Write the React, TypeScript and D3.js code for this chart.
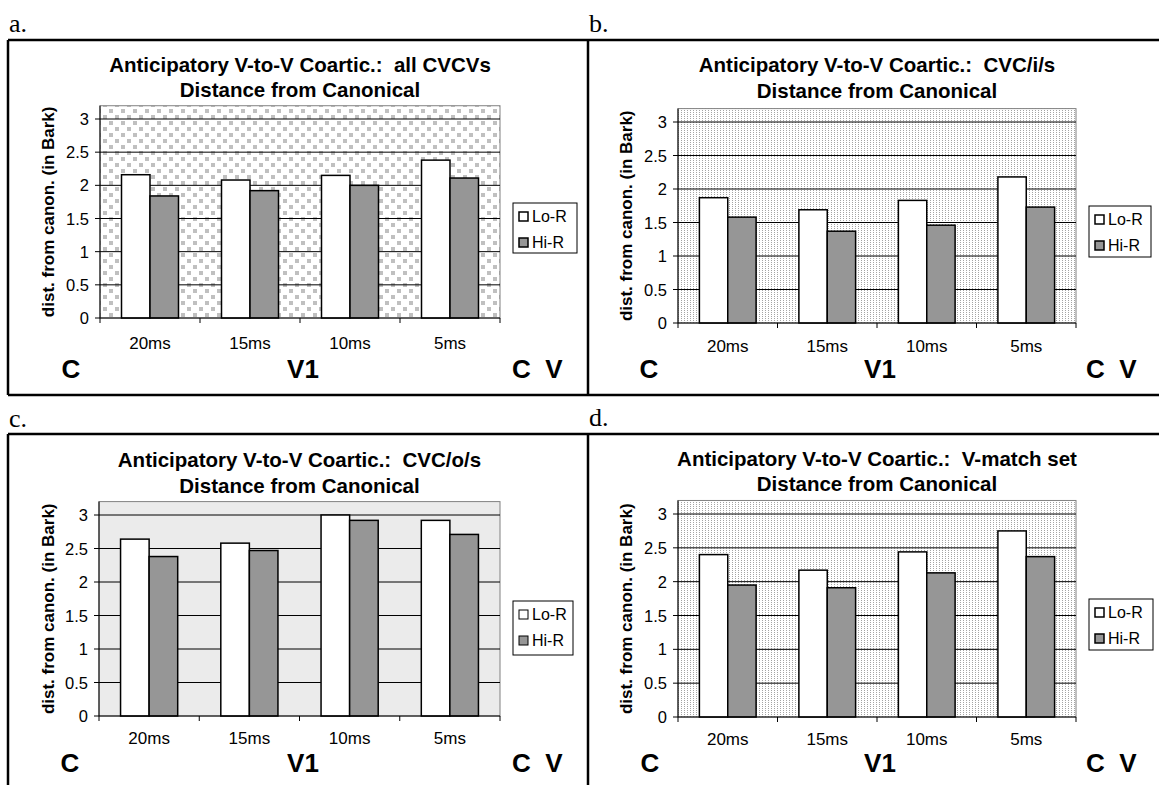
import React from "react";
import * as d3 from "d3";

const categories = ["20ms", "15ms", "10ms", "5ms"];
const seriesNames = ["Lo-R", "Hi-R"];
const yTicks = [0, 0.5, 1, 1.5, 2, 2.5, 3];

const loA = [2.16, 2.08, 2.15, 2.38];
const hiA = [1.84, 1.92, 2.0, 2.11];
const loB = [1.87, 1.69, 1.83, 2.18];
const hiB = [1.58, 1.37, 1.46, 1.73];
const loC = [2.64, 2.58, 3.0, 2.92];
const hiC = [2.38, 2.47, 2.92, 2.71];
const loD = [2.4, 2.17, 2.44, 2.75];
const hiD = [1.95, 1.91, 2.13, 2.37];

const titleLines = [
  "Anticipatory V-to-V Coartic.:  all CVCVs",
  "Anticipatory V-to-V Coartic.:  CVC/i/s",
  "Anticipatory V-to-V Coartic.:  CVC/o/s",
  "Anticipatory V-to-V Coartic.:  V-match set",
];
const subtitle = "Distance from Canonical";
const yTitle = "dist. from canon. (in Bark)";
const panelLetters = ["a.", "b.", "c.", "d."];

const SANS = "'Liberation Sans', Arial, sans-serif";
const SERIF = "'Liberation Serif', 'Times New Roman', serif";

type Layout = {
  left: number;
  right: number;
  zero: number;
  three: number;
  t1: number;
  t2: number;
  catY: number;
  cvY: number;
  yTitleX: number;
  lx: number;
  ly: number;
  lw: number;
  lh: number;
  cX: number;
  v1X: number;
  cvX: number;
  letterX: number;
  letterY: number;
  bg: string;
};

const layouts: Layout[] = [
  { left: 100, right: 500, zero: 318, three: 119, t1: 72, t2: 97, catY: 349, cvY: 378, yTitleX: 48, lx: 513, ly: 203, lw: 64, lh: 50, cX: 71, v1X: 303, cvX: 512, letterX: 9, letterY: 32, bg: "url(#dotsA)" },
  { left: 678, right: 1076, zero: 323, three: 122, t1: 72, t2: 98, catY: 352, cvY: 378, yTitleX: 626, lx: 1089, ly: 206, lw: 62, lh: 51, cX: 649, v1X: 880, cvX: 1086, letterX: 589, letterY: 32, bg: "url(#fineDots)" },
  { left: 99, right: 500, zero: 716, three: 515, t1: 467, t2: 493, catY: 744, cvY: 772, yTitleX: 48, lx: 513, ly: 601, lw: 60, lh: 54, cX: 70, v1X: 303, cvX: 512, letterX: 9, letterY: 427, bg: "#ebebeb" },
  { left: 678, right: 1076, zero: 717, three: 514, t1: 466, t2: 491, catY: 745, cvY: 772, yTitleX: 626, lx: 1089, ly: 599, lw: 64, lh: 51, cX: 650, v1X: 880, cvX: 1086, letterX: 589, letterY: 426, bg: "url(#fineDots)" },
];

const panelData = [
  [loA, hiA],
  [loB, hiB],
  [loC, hiC],
  [loD, hiD],
];

const seriesFill = ["#ffffff", "#969696"];

function Panel({ idx }: { idx: number }) {
  const L = layouts[idx];
  const data = panelData[idx];
  const x = d3.scaleBand<string>().domain(categories).range([L.left, L.right]).padding(0);
  const y = d3.scaleLinear().domain([0, 3]).range([L.zero, L.three]);
  const bw = x.bandwidth();
  const inner = d3.scaleBand<string>().domain(seriesNames).range([bw * 0.215, bw * 0.785]).padding(0);
  const top = y(3.2);
  const cx = (L.left + L.right) / 2;
  const ymid = (top + L.zero) / 2;
  const boundaries = d3.range(categories.length + 1).map((i) => L.left + i * bw);
  return (
    <g>
      <text x={L.letterX} y={L.letterY} fontFamily={SERIF} fontSize={26}>{panelLetters[idx]}</text>
      <text x={cx} y={L.t1} textAnchor="middle" fontFamily={SANS} fontWeight="bold" fontSize={20.5} style={{ whiteSpace: "pre" }}>{titleLines[idx]}</text>
      <text x={cx} y={L.t2} textAnchor="middle" fontFamily={SANS} fontWeight="bold" fontSize={20.5}>{subtitle}</text>
      <rect x={L.left} y={top} width={L.right - L.left} height={L.zero - top} fill={L.bg} stroke="#808080" strokeWidth={1} />
      {yTicks.filter((t) => t > 0).map((t) => (
        <line key={t} x1={L.left} x2={L.right} y1={y(t)} y2={y(t)} stroke="#000" strokeWidth={1} />
      ))}
      {yTicks.map((t) => (
        <g key={"yt" + t}>
          <line x1={L.left - 5} x2={L.left} y1={y(t)} y2={y(t)} stroke="#000" strokeWidth={1} />
          <text x={L.left - 11} y={y(t) + 6} textAnchor="end" fontFamily={SANS} fontSize={16.5}>{String(t)}</text>
        </g>
      ))}
      <line x1={L.left} x2={L.left} y1={top} y2={L.zero} stroke="#000" strokeWidth={1} />
      {categories.map((c, ci) =>
        data.map((vals, si) => (
          <rect
            key={c + si}
            x={(x(c) as number) + (inner(seriesNames[si]) as number)}
            y={y(vals[ci])}
            width={inner.bandwidth()}
            height={L.zero - y(vals[ci])}
            fill={seriesFill[si]}
            stroke="#000"
            strokeWidth={1.5}
          />
        ))
      )}
      <line x1={L.left} x2={L.right} y1={L.zero} y2={L.zero} stroke="#000" strokeWidth={1} />
      {boundaries.map((bx, i) => (
        <line key={"xt" + i} x1={bx} x2={bx} y1={L.zero} y2={L.zero + 5} stroke="#000" strokeWidth={1} />
      ))}
      {categories.map((c) => (
        <text key={"cl" + c} x={(x(c) as number) + bw / 2} y={L.catY} textAnchor="middle" fontFamily={SANS} fontSize={17}>{c}</text>
      ))}
      <text transform={`translate(${L.yTitleX + 6},${ymid}) rotate(-90)`} textAnchor="middle" fontFamily={SANS} fontWeight="bold" fontSize={17}>{yTitle}</text>
      <rect x={L.lx} y={L.ly} width={L.lw} height={L.lh} fill="#fff" stroke="#000" strokeWidth={1} />
      {seriesNames.map((s, si) => (
        <g key={"lg" + s}>
          <rect x={L.lx + 6} y={L.ly + 9 + si * 26} width={9} height={9} fill={seriesFill[si]} stroke="#000" strokeWidth={idx === 2 ? 1 : 1.5} />
          <text x={L.lx + 19} y={L.ly + 19 + si * 26} fontFamily={SANS} fontSize={16}>{s}</text>
        </g>
      ))}
      <text x={L.cX} y={L.cvY} textAnchor="middle" fontFamily={SANS} fontWeight="bold" fontSize={26}>C</text>
      <text x={L.v1X} y={L.cvY} textAnchor="middle" fontFamily={SANS} fontWeight="bold" fontSize={26}>V1</text>
      <text x={L.cvX} y={L.cvY} fontFamily={SANS} fontWeight="bold" fontSize={26} style={{ whiteSpace: "pre" }}>{"C  V"}</text>
    </g>
  );
}

export default function App() {
  return (
    <svg width={1159} height={785} style={{ position: "absolute", left: 0, top: 0, background: "#fff" }}>
      <defs>
        <pattern id="dotsA" x={0} y={0} width={12} height={12} patternUnits="userSpaceOnUse">
          <rect width={12} height={12} fill="#fff" />
          <rect x={1} y={1} width={4} height={4} fill="#c0c0c0" />
          <rect x={7} y={7} width={4} height={4} fill="#c0c0c0" />
        </pattern>
        <pattern id="fineDots" x={0} y={0} width={3} height={2} patternUnits="userSpaceOnUse">
          <rect width={3} height={2} fill="#fff" />
          <rect x={0} y={0} width={1} height={1} fill="#a4a4a4" />
        </pattern>
      </defs>
      <rect width={1159} height={785} fill="#fff" />
      <g stroke="#000" strokeWidth={2.5}>
        <line x1={8} x2={1159} y1={40} y2={40} />
        <line x1={8} x2={1159} y1={395} y2={395} />
        <line x1={8} x2={1159} y1={434} y2={434} />
        <line x1={8} x2={8} y1={40} y2={395} />
        <line x1={588} x2={588} y1={40} y2={395} />
        <line x1={8} x2={8} y1={434} y2={785} />
        <line x1={588} x2={588} y1={434} y2={785} />
      </g>
      {[0, 1, 2, 3].map((i) => (
        <Panel key={i} idx={i} />
      ))}
    </svg>
  );
}
